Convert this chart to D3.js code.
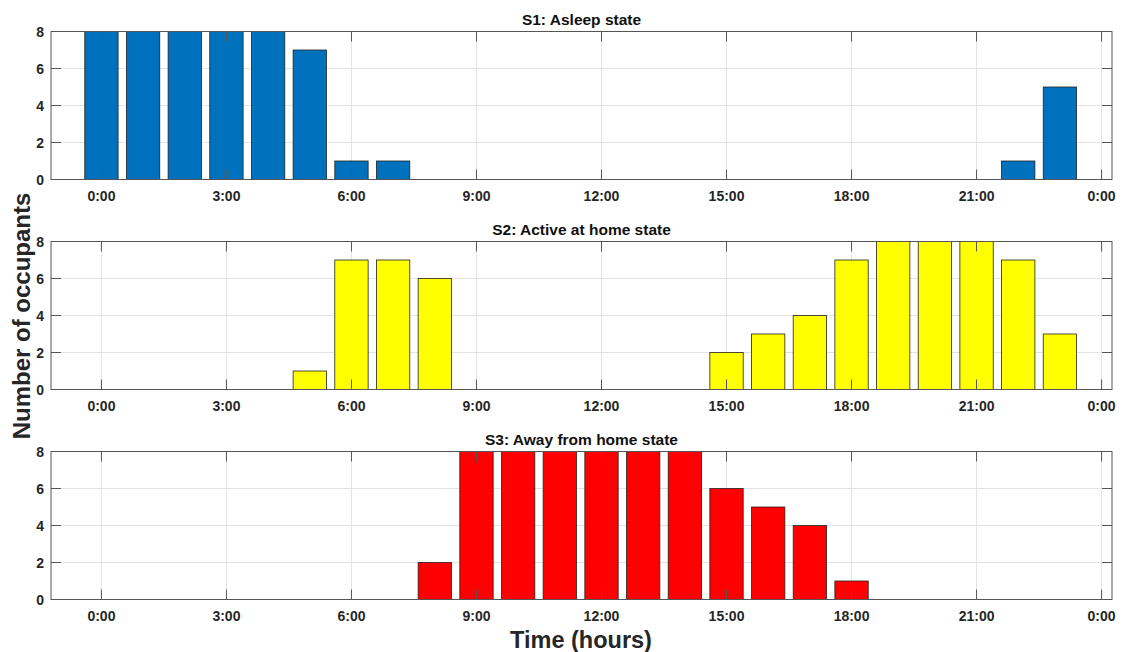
<!DOCTYPE html>
<html>
<head>
    <script type="text/javascript" src="https://d3js.org/d3.v7.min.js"></script>
    <style>
        body { margin: 0; background: white; }
        text { font-family: "Liberation Sans", Arial, sans-serif; }
    </style>
</head>
<body>
    <div id="chart"></div>
    <script type="text/javascript">
        // data (hour of day -> number of occupants)
        const hours = d3.range(0, 24);
        const asleep = [8, 8, 8, 8, 8, 7, 1, 1, 0, 0, 0, 0, 0, 0, 0, 0, 0, 0, 0, 0, 0, 0, 1, 5];
        const activeHome = [0, 0, 0, 0, 0, 1, 7, 7, 6, 0, 0, 0, 0, 0, 0, 2, 3, 4, 7, 8, 8, 8, 7, 3];
        const awayHome = [0, 0, 0, 0, 0, 0, 0, 0, 2, 8, 8, 8, 8, 8, 8, 6, 5, 4, 1, 0, 0, 0, 0, 0];
        const titles = ["S1: Asleep state", "S2: Active at home state", "S3: Away from home state"];
        const xTicks = [0, 3, 6, 9, 12, 15, 18, 21, 24];
        const yTicks = [0, 2, 4, 6, 8];

        // layout
        const W = 1128, H = 652;
        const plotLeft = 51, plotRight = 1112;
        const panelTops = [31.5, 241.5, 451.5];
        const panelH = 148;
        const barWidth = 0.8; // hours
        const colors = ["#0072BD", "#FFFF00", "#FF0000"];
        const series = [asleep, activeHome, awayHome];

        const svg = d3.select("#chart").append("svg")
            .attr("width", W)
            .attr("height", H)
            .style("background-color", "white");

        const x = d3.scaleLinear().domain([-1.21, 24.25]).range([plotLeft, plotRight]);

        for (let p = 0; p < 3; p++) {
            const top = panelTops[p];
            const y = d3.scaleLinear().domain([0, 8]).range([top + panelH, top]);
            const g = svg.append("g");
            const clipId = "clip" + p;
            svg.append("clipPath").attr("id", clipId)
                .append("rect")
                .attr("x", plotLeft).attr("y", top)
                .attr("width", plotRight - plotLeft).attr("height", panelH);

            // grid
            g.selectAll("line.vgrid").data(xTicks).enter().append("line")
                .attr("x1", d => x(d)).attr("x2", d => x(d))
                .attr("y1", top).attr("y2", top + panelH)
                .style("stroke", "#e3e3e3").style("stroke-width", 1);
            g.selectAll("line.hgrid").data(yTicks).enter().append("line")
                .attr("x1", plotLeft).attr("x2", plotRight)
                .attr("y1", d => y(d)).attr("y2", d => y(d))
                .style("stroke", "#e3e3e3").style("stroke-width", 1);

            // bars
            const data = hours.map((h, i) => [h, series[p][i]]).filter(d => d[1] > 0);
            g.append("g").attr("clip-path", "url(#" + clipId + ")")
                .selectAll("rect").data(data).enter().append("rect")
                .attr("x", d => x(d[0] - barWidth / 2))
                .attr("width", d => x(barWidth) - x(0))
                .attr("y", d => y(d[1]))
                .attr("height", d => y(0) - y(d[1]))
                .style("fill", colors[p])
                .style("stroke", "#222")
                .style("stroke-width", 0.8);

            // ticks inside box (top, bottom, left, right)
            const tl = 10;
            g.selectAll("line.xtb").data(xTicks).enter().append("line")
                .attr("x1", d => x(d)).attr("x2", d => x(d))
                .attr("y1", top + panelH).attr("y2", top + panelH - tl)
                .style("stroke", "#555");
            g.selectAll("line.xtt").data(xTicks).enter().append("line")
                .attr("x1", d => x(d)).attr("x2", d => x(d))
                .attr("y1", top).attr("y2", top + tl)
                .style("stroke", "#555");
            g.selectAll("line.ytl").data(yTicks).enter().append("line")
                .attr("x1", plotLeft).attr("x2", plotLeft + tl)
                .attr("y1", d => y(d)).attr("y2", d => y(d))
                .style("stroke", "#555");
            g.selectAll("line.ytr").data(yTicks).enter().append("line")
                .attr("x1", plotRight).attr("x2", plotRight - tl)
                .attr("y1", d => y(d)).attr("y2", d => y(d))
                .style("stroke", "#555");

            // box
            g.append("rect")
                .attr("x", plotLeft).attr("y", top)
                .attr("width", plotRight - plotLeft).attr("height", panelH)
                .style("fill", "none").style("stroke", "#555").style("stroke-width", 1);

            // tick labels
            g.selectAll("text.xl").data(xTicks).enter().append("text")
                .attr("x", d => x(d)).attr("y", top + panelH + 21)
                .attr("text-anchor", "middle")
                .style("font-size", "14px").style("font-weight", "bold").style("fill", "#262626")
                .text(d => (d % 24) + ":00");
            g.selectAll("text.yl").data(yTicks).enter().append("text")
                .attr("x", plotLeft - 7).attr("y", d => y(d) + 5)
                .attr("text-anchor", "end")
                .style("font-size", "14px").style("font-weight", "bold").style("fill", "#262626")
                .text(d => d);

            // title
            g.append("text")
                .attr("x", (plotLeft + plotRight) / 2).attr("y", top - 6.5)
                .attr("text-anchor", "middle")
                .style("font-size", "15.5px").style("font-weight", "bold").style("fill", "#111")
                .text(titles[p]);
        }

        // axis labels
        svg.append("text")
            .attr("transform", "translate(30," + 316 + ") rotate(-90)")
            .attr("text-anchor", "middle")
            .style("font-size", "24px").style("font-weight", "bold").style("fill", "#262626")
            .text("Number of occupants");
        svg.append("text")
            .attr("x", 581).attr("y", 648)
            .attr("text-anchor", "middle")
            .style("font-size", "23.5px").style("font-weight", "bold").style("fill", "#262626")
            .text("Time (hours)");
    </script>
</body>
</html>
